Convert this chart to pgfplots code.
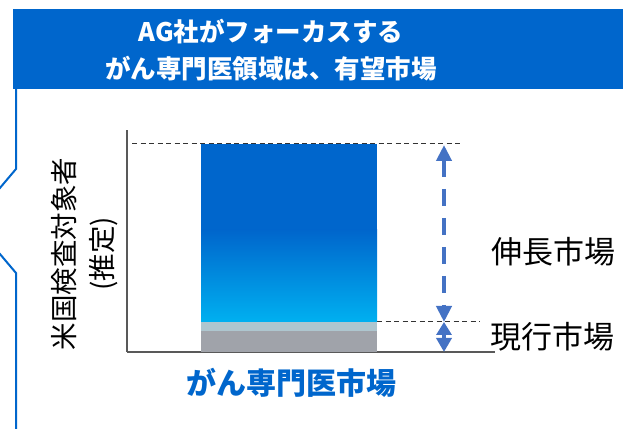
\documentclass[border=0pt]{standalone}
\usepackage{fontspec}
\usepackage{pgfplots}
\pgfplotsset{compat=1.18}
\usetikzlibrary{arrows.meta}
\setmainfont{Noto Sans CJK JP}
\definecolor{hdr}{HTML}{0066CC}
\definecolor{blueb}{HTML}{0066CC}
\definecolor{cyanb}{HTML}{00B0F0}
\definecolor{lightb}{HTML}{AEC6CF}
\definecolor{grayb}{HTML}{A0A3AA}
\definecolor{arrowc}{HTML}{4472C4}
\definecolor{axisc}{HTML}{595959}
\begin{document}
\begin{tikzpicture}[x=1pt,y=1pt]
\path[use as bounding box] (0,0) rectangle (623,428);
\clip (0,0) rectangle (623,428);
\fill[hdr] (13,419) rectangle (630,339);
\draw[hdr, line width=2pt] (16,340) -- (16,259) -- (-28,207) -- (16,155) -- (16,-5);
\node[text=white, font=\fontsize{25.5}{37}\selectfont\bfseries, align=center] at (271,377.5) {AG社がフォーカスする\\がん専門医領域は、有望市場};
\begin{axis}[
 at={(127pt,76pt)}, anchor=south west,
 width=368pt, height=222pt, scale only axis,
 xmin=0, xmax=368, ymin=0, ymax=222,
 axis x line=bottom, axis y line=left,
 axis line style={-, line width=1.3pt, color=axisc},
 xtick=\empty, ytick=\empty,
 ybar stacked, bar width=176,
 clip=false,
]
\addplot[fill=grayb, draw=none] coordinates {(162,21)};
\addplot[fill=lightb, draw=none] coordinates {(162,9)};
\addplot[draw=none, bottom color=cyanb, top color=blueb] coordinates {(162,92)};
\addplot[fill=blueb, draw=none] coordinates {(162,86)};
\draw[black!80, line width=1pt, dash pattern=on 5pt off 3.5pt] (axis cs:5,208) -- (axis cs:333,208);
\draw[black!80, line width=1pt, dash pattern=on 5pt off 3.5pt] (axis cs:250,30) -- (axis cs:353,30);
\draw[arrowc, line width=4pt, dash pattern=on 17pt off 12pt, {Triangle[width=15pt,length=16pt]}-{Triangle[width=15pt,length=16pt]}] (axis cs:317,207) -- (axis cs:317,30);
\draw[arrowc, line width=4pt, {Triangle[width=15pt,length=13pt]}-{Triangle[width=15pt,length=14pt]}] (axis cs:317,30) -- (axis cs:317,0);
\end{axis}
\node[font=\fontsize{27.5}{38}\selectfont, rotate=90, align=center] at (85,174) {米国検査対象者\\(推定)};
\node[font=\fontsize{31}{36}\selectfont] at (553,176) {伸長市場};
\node[font=\fontsize{31}{36}\selectfont] at (552,91) {現行市場};
\node[font=\fontsize{30}{36}\selectfont\bfseries, text=hdr] at (291,45) {がん専門医市場};
\end{tikzpicture}
\end{document}
